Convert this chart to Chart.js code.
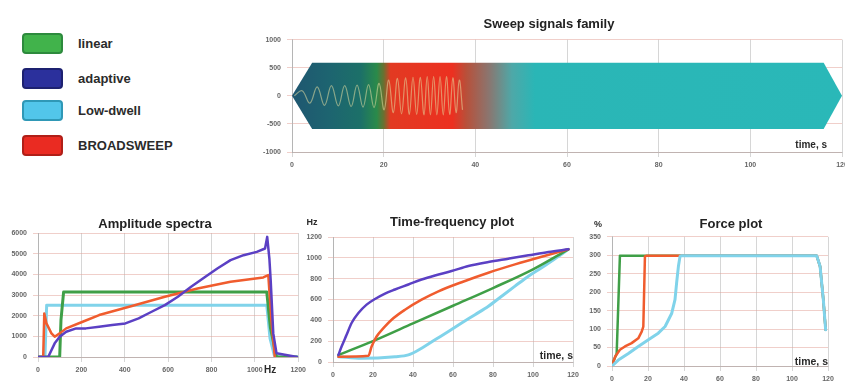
<!DOCTYPE html>
<html>
<head>
<meta charset="utf-8">
<script src="https://cdn.jsdelivr.net/npm/chart.js@4.4.1/dist/chart.umd.min.js"></script>
<style>
  html, body { margin: 0; padding: 0; background: #fff; overflow: hidden; }
  #wrap { position: relative; width: 845px; height: 382px; overflow: hidden; font-family: "Liberation Sans", Arial, sans-serif; }
  #wrap canvas { position: absolute; }
  .leg { position: absolute; left: 22px; height: 21px; display: flex; align-items: center; }
  .leg .box { width: 37px; height: 17px; border-radius: 4px; border: 2px solid; }
  .leg .txt { margin-left: 15px; font-weight: bold; font-size: 13px; color: #2b2b2b; }
</style>
</head>
<body>
<div id="wrap">
  <div id="legend"></div>
  <canvas id="sweep" width="618" height="167" style="left:240px;top:5px"></canvas>
  <canvas id="amp" width="310" height="190" style="left:0px;top:205px"></canvas>
  <canvas id="tf" width="304" height="190" style="left:300px;top:205px"></canvas>
  <canvas id="force" width="312" height="190" style="left:575px;top:205px"></canvas>
</div>
<script>
// legend
const seriesNames = ['linear', 'adaptive', 'Low-dwell', 'BROADSWEEP'];
const legendFill = ['#41b34b', '#2b309c', '#52c6ea', '#ea2b22'];
const legendEdge = ['#2d8a3d', '#1d2170', '#2f98b6', '#b01f18'];
const lineColors = ['#3f9f47', '#5b40c4', '#80d3ea', '#f05c2e'];

// sweep signal (top)
const sweepTime = [0, 4.4, 116, 120];
const sweepAmp = [0, 590, 590, 0];
const waveTime = [0.5, 2.2, 3.9, 5.5, 7.1, 8.6, 10.1, 11.5, 12.9, 14.2, 15.5, 16.7, 17.9, 19.0, 20.1, 21.1, 22.1, 23.0, 23.9, 24.8, 25.6, 26.4, 27.2, 28.0, 28.8, 29.5, 30.2, 30.9, 31.6, 32.3, 33.0, 33.7, 34.4, 35.1, 35.8, 36.5, 37.2];
const waveAmp = [0, 90, -130, 160, -170, 180, -180, 180, -190, 190, -200, 200, -210, 220, -250, 280, -300, 310, -320, 320, -330, 330, -330, 330, -340, 340, -340, 340, -340, 340, -340, 340, -330, 320, -300, 280, -250];
const timeTicks = [0, 20, 40, 60, 80, 100, 120];
const sweepYTicks = [-1000, -500, 0, 500, 1000];

// amplitude spectra
const ampLinearHz = [0, 100, 106, 118, 1055, 1072, 1100, 1195];
const ampLinearVal = [0, 0, 1800, 3140, 3140, 1400, 0, 0];
const ampAdaptiveHz = [0, 47, 77, 100, 130, 176, 221, 282, 342, 403, 464, 524, 585, 645, 706, 767, 827, 888, 948, 1009, 1047, 1057, 1067, 1073, 1085, 1100, 1195];
const ampAdaptiveVal = [0, 0, 660, 982, 1224, 1385, 1385, 1465, 1546, 1626, 1868, 2190, 2512, 2914, 3397, 3848, 4283, 4685, 4927, 5088, 5249, 5812, 4766, 3719, 1143, 177, 0];
const ampLowHz = [0, 32, 40, 1055, 1070, 1090, 1110, 1195];
const ampLowVal = [0, 0, 2510, 2510, 900, 80, 0, 0];
const ampBroadHz = [0, 24, 29, 39, 62, 77, 100, 130, 206, 282, 433, 585, 736, 888, 1039, 1062, 1076, 1092];
const ampBroadVal = [0, 0, 2110, 1627, 1143, 982, 1143, 1385, 1707, 2029, 2464, 2914, 3316, 3638, 3848, 3961, 1800, 0];
const hzTicks = [0, 200, 400, 600, 800, 1000, 1200];
const ampYTicks = [0, 1000, 2000, 3000, 4000, 5000, 6000];

// time-frequency
const tfAdaptiveT = [2.7, 4.3, 6.8, 9.3, 12.7, 16.8, 21, 26, 31, 37.7, 44.3, 51, 59.3, 67.7, 77.7, 87.7, 97.7, 107.7, 117.7];
const tfAdaptiveF = [68, 148, 261, 374, 470, 551, 605, 657, 696, 744, 792, 831, 873, 921, 960, 992, 1024, 1056, 1082];
const tfLinearT = [2.7, 20, 40, 60, 80, 100, 117.7];
const tfLinearF = [68, 200, 370, 540, 710, 890, 1082];
const tfBroadT = [2.7, 17.7, 19.3, 21.8, 25.2, 29.3, 36, 44.3, 52.7, 64.3, 77.7, 91, 104.3, 117.7];
const tfBroadF = [51, 60, 148, 245, 325, 406, 502, 599, 679, 766, 857, 937, 1011, 1082];
const tfLowT = [2.7, 14.3, 31, 37.7, 44.3, 51, 57.7, 64.3, 71, 77.7, 84.3, 91, 97.7, 104.3, 111, 117.7];
const tfLowF = [51, 36, 51, 68, 132, 213, 293, 374, 454, 535, 631, 728, 824, 905, 992, 1082];
const tfYTicks = [0, 200, 400, 600, 800, 1000, 1200];

// force
const forceLinearT = [0, 2.6, 4.4, 113.7, 115.6, 117.4, 118.7];
const forceLinearV = [3, 34, 299, 299, 270, 180, 98];
const forceBroadT = [0, 1.7, 4.4, 7.2, 10.9, 14.6, 16.5, 17.4, 18.3, 19.3, 113.7, 115.6, 117.4, 118.7];
const forceBroadV = [0, 25, 44, 53, 62, 75, 93, 107, 297, 299, 299, 270, 180, 98];
const forceLowT = [0, 3.5, 9.1, 14.6, 20.2, 25.7, 29.5, 33.2, 35, 35.9, 36.9, 37.8, 38.7, 113.7, 115.6, 117.4, 118.7];
const forceLowV = [0, 16, 34, 53, 71, 89, 107, 143, 180, 225, 270, 297, 299, 299, 270, 180, 98];
const forceYTicks = [0, 50, 100, 150, 200, 250, 300, 350];

// legend boxes
const legendTops = [33, 68, 100, 135];
seriesNames.forEach((name, i) => {
  const d = document.createElement('div');
  d.className = 'leg';
  d.style.top = legendTops[i] + 'px';
  d.innerHTML = `<span class="box" style="background:${legendFill[i]};border-color:${legendEdge[i]}"></span><span class="txt">${name}</span>`;
  document.getElementById('legend').appendChild(d);
});

const pts = (xs, ys) => xs.map((x, i) => ({ x: x, y: ys[i] }));

// draws unit texts next to the plot area
const unitText = {
  id: 'unitText',
  afterDraw(chart, args, opts) {
    const { ctx, chartArea } = chart;
    (opts.items || []).forEach(it => {
      ctx.save();
      ctx.font = it.font;
      ctx.fillStyle = '#2a2a2a';
      ctx.textAlign = it.align;
      ctx.textBaseline = 'middle';
      const x = it.fromLeft ? chartArea.left + it.dx : chartArea.right + it.dx;
      const y = it.fromTop ? chartArea.top + it.dy : chartArea.bottom + it.dy;
      ctx.fillText(it.text, x, y);
      ctx.restore();
    });
  }
};

const tickFont = { family: 'Liberation Sans', size: 7, weight: 'bold' };
const titleFont = { family: 'Liberation Sans', size: 13, weight: 'bold', lineHeight: 1.2 };
const plainNum = v => String(v);

function axes(xTicks, yTicks, yWidth, xHeight, rightWidth) {
  return {
    x: {
      type: 'linear', min: xTicks[0], max: xTicks[xTicks.length - 1],
      afterBuildTicks: s => { s.ticks = xTicks.map(v => ({ value: v })); },
      afterFit: s => { s.height = xHeight; },
      grid: { color: 'rgba(165,165,165,0.45)', tickLength: 5 },
      border: { color: 'rgba(160,160,160,0.6)' },
      ticks: { font: tickFont, color: '#666', maxRotation: 0, autoSkip: false, padding: 4, callback: plainNum }
    },
    y: {
      type: 'linear', min: yTicks[0], max: yTicks[yTicks.length - 1],
      afterBuildTicks: s => { s.ticks = yTicks.map(v => ({ value: v })); },
      afterFit: s => { s.width = yWidth; },
      grid: { color: 'rgba(225,160,150,0.5)', tickLength: 5 },
      border: { color: 'rgba(160,160,160,0.6)' },
      ticks: { font: tickFont, color: '#666', padding: 6, callback: plainNum }
    },
    yr: {
      position: 'right', display: true,
      afterFit: s => { s.width = rightWidth; },
      grid: { display: false }, border: { display: false }, ticks: { display: false }
    }
  };
}

function lineSet(label, data, color, width, smooth) {
  return {
    label: label, data: data, borderColor: color, borderWidth: width, pointRadius: 0, fill: false,
    tension: smooth ? 0.4 : 0, cubicInterpolationMode: smooth ? 'monotone' : 'default',
    borderJoinStyle: 'round', borderCapStyle: 'round'
  };
}

// top: sweep signals family
const bandStops = [[0, '#1f5670'], [8, '#1d6470'], [15, '#1c7068'], [18.5, '#2a8a4a'], [20, '#6a7030'], [21.5, '#e23a22'], [35, '#ec3020'], [38, '#b8503a'], [43, '#8a7670'], [48, '#4ea8a8'], [53, '#2ab6b6'], [120, '#2ab8b8']];
const bandFill = (c) => {
  const chart = c.chart;
  if (!chart.chartArea) return 'rgba(0,0,0,0)';
  const xs = chart.scales.x;
  const g = chart.ctx.createLinearGradient(xs.getPixelForValue(0), 0, xs.getPixelForValue(120), 0);
  bandStops.forEach(s => g.addColorStop(s[0] / 120, s[1]));
  return g;
};

new Chart(document.getElementById('sweep'), {
  type: 'line',
  data: {
    datasets: [
      { label: 'wave', data: pts(waveTime, waveAmp), borderColor: 'rgba(225,220,160,0.55)', borderWidth: 1.2, pointRadius: 0, tension: 0.4, fill: false },
      { label: 'upper', data: pts(sweepTime, sweepAmp), borderWidth: 0, pointRadius: 0, tension: 0, fill: '+1', backgroundColor: bandFill },
      { label: 'lower', data: pts(sweepTime, sweepAmp.map(v => -v)), borderWidth: 0, pointRadius: 0, tension: 0, fill: false }
    ]
  },
  options: {
    responsive: false, animation: false,
    plugins: {
      legend: { display: false }, tooltip: { enabled: false },
      title: { display: true, text: 'Sweep signals family', font: titleFont, color: '#222', padding: { top: 12, bottom: 7 } },
      unitText: { items: [{ text: 'time, s', font: 'bold 10px "Liberation Sans"', align: 'right', dx: -15, dy: -7 }] }
    },
    scales: axes(timeTicks, sweepYTicks, 52, 20, 16)
  },
  plugins: [unitText]
});

// amplitude spectra
new Chart(document.getElementById('amp'), {
  type: 'line',
  data: {
    datasets: [
      lineSet(seriesNames[1], pts(ampAdaptiveHz, ampAdaptiveVal), lineColors[1], 2.5, false),
      lineSet(seriesNames[3], pts(ampBroadHz, ampBroadVal), lineColors[3], 2.5, false),
      lineSet(seriesNames[0], pts(ampLinearHz, ampLinearVal), lineColors[0], 3, false),
      lineSet(seriesNames[2], pts(ampLowHz, ampLowVal), lineColors[2], 3, false)
    ]
  },
  options: {
    responsive: false, animation: false,
    plugins: {
      legend: { display: false }, tooltip: { enabled: false },
      title: { display: true, text: 'Amplitude spectra', font: titleFont, color: '#222', padding: { top: 12, bottom: 0.4 } },
      unitText: { items: [{ text: 'Hz', font: 'bold 10px "Liberation Sans"', align: 'center', dx: -28, dy: 13 }] }
    },
    scales: axes(hzTicks, ampYTicks, 38, 38, 10)
  },
  plugins: [unitText]
});

// time-frequency plot
new Chart(document.getElementById('tf'), {
  type: 'line',
  data: {
    datasets: [
      lineSet(seriesNames[1], pts(tfAdaptiveT, tfAdaptiveF), lineColors[1], 2.5, true),
      lineSet(seriesNames[3], pts(tfBroadT, tfBroadF), lineColors[3], 2.5, true),
      lineSet(seriesNames[0], pts(tfLinearT, tfLinearF), lineColors[0], 2.5, true),
      lineSet(seriesNames[2], pts(tfLowT, tfLowF), lineColors[2], 3, true)
    ]
  },
  options: {
    responsive: false, animation: false,
    plugins: {
      legend: { display: false }, tooltip: { enabled: false },
      title: { display: true, text: 'Time-frequency plot', font: titleFont, color: '#222', padding: { top: 10, bottom: 6.4 } },
      unitText: { items: [
        { text: 'time, s', font: 'bold 10.5px "Liberation Sans"', align: 'right', dx: 0, dy: -6 },
        { text: 'Hz', font: 'bold 9px "Liberation Sans"', align: 'center', fromLeft: true, fromTop: true, dx: -21, dy: -14 }
      ] }
    },
    scales: axes(timeTicks, tfYTicks, 33, 33, 31)
  },
  plugins: [unitText]
});

// force plot
new Chart(document.getElementById('force'), {
  type: 'line',
  data: {
    datasets: [
      lineSet(seriesNames[2], pts(forceLowT, forceLowV), lineColors[2], 3, false),
      lineSet(seriesNames[3], pts(forceBroadT, forceBroadV), lineColors[3], 2.5, false),
      lineSet(seriesNames[0], pts(forceLinearT, forceLinearV), lineColors[0], 2.5, false)
    ]
  },
  options: {
    responsive: false, animation: false,
    plugins: {
      legend: { display: false }, tooltip: { enabled: false },
      title: { display: true, text: 'Force plot', font: titleFont, color: '#222', padding: { top: 12, bottom: 4.2 } },
      unitText: { items: [
        { text: 'time, s', font: 'bold 10.5px "Liberation Sans"', align: 'right', dx: 0, dy: -4 },
        { text: '%', font: 'bold 9px "Liberation Sans"', align: 'center', fromLeft: true, fromTop: true, dx: -14, dy: -12 }
      ] }
    },
    scales: axes(timeTicks, forceYTicks, 37, 29, 59)
  },
  plugins: [unitText]
});
</script>
</body>
</html>
